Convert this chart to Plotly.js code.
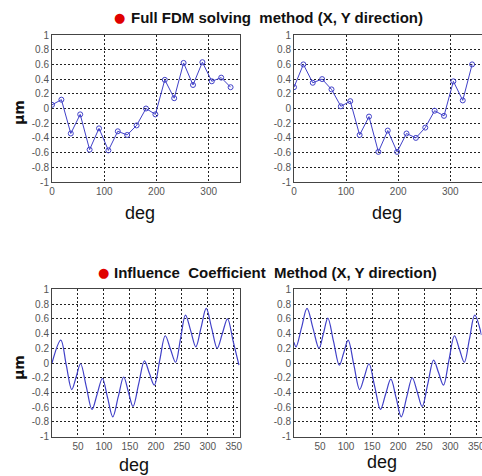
<!DOCTYPE html>
<html>
<head>
<meta charset="utf-8">
<script src="https://cdn.plot.ly/plotly-3.0.1.min.js"></script>
<style>html,body{margin:0;padding:0;background:#fff;}#chart{width:482px;height:476px;}</style>
</head>
<body>
<div id="chart"></div>
<script>
// ---- data ----
var fdmDeg = [0,18,36,54,72,90,108,126,144,162,180,198,216,234,252,270,288,306,324,342];
var fdmX = [0.05,0.12,-0.34,-0.08,-0.56,-0.27,-0.57,-0.31,-0.36,-0.23,0.0,-0.08,0.39,0.14,0.62,0.32,0.63,0.37,0.42,0.29];
var fdmY = [0.29,0.60,0.35,0.40,0.26,0.03,0.10,-0.36,-0.11,-0.59,-0.30,-0.59,-0.34,-0.40,-0.26,-0.03,-0.10,0.37,0.11,0.60];

var icmXDeg = [0,17,27.5,38,46.5,55,66,77,87,97,107,117,127.5,138,147,156,167,178,187.5,197,207.5,218,228,238,247.5,257,267,277,287,297,307.5,318,328,338,349,360];
var icmXVal = [0.0,0.31,-0.03,-0.36,-0.19,-0.01,-0.32,-0.63,-0.42,-0.21,-0.47,-0.73,-0.46,-0.19,-0.39,-0.59,-0.28,0.03,-0.14,-0.30,0.04,0.37,0.19,0.01,0.33,0.65,0.44,0.22,0.48,0.74,0.47,0.20,0.40,0.60,0.29,-0.03];
var icmYDeg = [0,4,14.5,25,36.5,48,56.5,65,76,87,95.5,104,115,126,135,144,155,166,176,186,196,206,216.5,227,236.5,246,257,268,277.5,287,297.5,308,317.5,327,337,347,360];
var icmYVal = [0.28,0.22,0.48,0.74,0.47,0.20,0.40,0.61,0.29,-0.03,0.14,0.31,-0.03,-0.36,-0.19,-0.01,-0.32,-0.63,-0.42,-0.22,-0.47,-0.73,-0.46,-0.20,-0.39,-0.59,-0.28,0.04,-0.13,-0.30,0.04,0.37,0.19,0.01,0.33,0.65,0.38];

var yTicks = [-1,-0.8,-0.6,-0.4,-0.2,0,0.2,0.4,0.6,0.8,1];
var yTickText = ['-1','-0.8','-0.6','-0.4','-0.2','0','0.2','0.4','0.6','0.8','1'];
var xTicksTop = [0,100,200,300];
var xTicksBottom = [50,100,150,200,250,300,350];

var title1 = 'Full FDM solving  method (X, Y direction)';
var title2 = 'Influence  Coefficient  Method (X, Y direction)';
var yLabel = 'μm';
var xLabel = 'deg';

// ---- layout helpers ----
var W = 482, H = 476;
function px(x){ return x / W; }
function py(y){ return 1 - y / H; }
var lineColor = 'rgb(64,64,200)';
var tickFont = {family: 'Liberation Sans, Arial, sans-serif', size: 10, color: '#555'};

function xaxis(dom, ticks, range, anchor){
  return {domain: dom, range: range, tickvals: ticks, ticktext: ticks.map(String),
    showline: true, mirror: true, linecolor: '#444', linewidth: 1,
    showgrid: true, gridcolor: '#222', gridwidth: 1, griddash: '2px,2px',
    zeroline: false, ticks: '', anchor: anchor, ticklabeloverflow: 'allow',
    tickfont: tickFont};
}
function yaxis(dom, anchor){
  return {domain: dom, range: [-1, 1], tickvals: yTicks, ticktext: yTickText,
    showline: true, mirror: true, linecolor: '#444', linewidth: 1,
    showgrid: true, gridcolor: '#222', gridwidth: 1, griddash: '2px,2px',
    zeroline: false, ticks: '', anchor: anchor, ticklabeloverflow: 'allow',
    tickfont: tickFont};
}

var domLeft = [px(52), px(240)];
var domRight = [px(294), px(481.5)];
var domTop = [py(182), py(35)];
var domBot = [py(436.7), py(289.3)];

var traces = [
  {x: fdmDeg, y: fdmX, xaxis: 'x', yaxis: 'y', mode: 'lines+markers', type: 'scatter',
   line: {color: lineColor, width: 1}, marker: {symbol: 'circle-open', size: 5, color: lineColor, line: {width: 1}}},
  {x: fdmDeg, y: fdmY, xaxis: 'x2', yaxis: 'y2', mode: 'lines+markers', type: 'scatter',
   line: {color: lineColor, width: 1}, marker: {symbol: 'circle-open', size: 5, color: lineColor, line: {width: 1}}},
  {x: icmXDeg, y: icmXVal, xaxis: 'x3', yaxis: 'y3', mode: 'lines', type: 'scatter',
   line: {color: lineColor, width: 1.2, shape: 'spline', smoothing: 1}},
  {x: icmYDeg, y: icmYVal, xaxis: 'x4', yaxis: 'y4', mode: 'lines', type: 'scatter',
   line: {color: lineColor, width: 1.2, shape: 'spline', smoothing: 1}}
];

var titleFont = {family: 'Liberation Sans, Arial, sans-serif', size: 15, color: '#111', weight: 'bold'};
var degFont = {family: 'Liberation Sans, Arial, sans-serif', size: 18, color: '#111'};
var muFont = {family: 'DejaVu Sans, sans-serif', size: 14, color: '#111', weight: 'bold'};

function ann(text, x, y, font, extra){
  var a = {text: text, xref: 'paper', yref: 'paper', x: px(x), y: py(y), showarrow: false,
    xanchor: 'center', yanchor: 'middle', font: font, borderpad: 0};
  for (var k in extra) a[k] = extra[k];
  return a;
}
var dotFont = {family: 'DejaVu Sans, sans-serif', size: 13, color: '#e00000'};

var layout = {
  width: W, height: H, margin: {l: 0, r: 0, t: 0, b: 0},
  paper_bgcolor: '#fff', plot_bgcolor: '#fff', showlegend: false,
  xaxis: xaxis(domLeft, xTicksTop, [0, 360], 'y'),
  yaxis: yaxis(domTop, 'x'),
  xaxis2: xaxis(domRight, xTicksTop, [0, 360], 'y2'),
  yaxis2: yaxis(domTop, 'x2'),
  xaxis3: xaxis(domLeft, xTicksBottom, [0, 362], 'y3'),
  yaxis3: yaxis(domBot, 'x3'),
  xaxis4: xaxis(domRight, xTicksBottom, [0, 360], 'y4'),
  yaxis4: yaxis(domBot, 'x4'),
  annotations: [
    ann('●', 119, 18, dotFont),
    ann(title1, 130, 18, titleFont, {xanchor: 'left'}),
    ann('●', 103, 272, dotFont),
    ann(title2, 113, 272, titleFont, {xanchor: 'left'}),
    ann(yLabel, 19, 113, muFont, {textangle: -90}),
    ann(yLabel, 19, 368, muFont, {textangle: -90}),
    ann(xLabel, 140, 213, degFont),
    ann(xLabel, 387, 213, degFont),
    ann(xLabel, 134, 465, degFont),
    ann(xLabel, 382, 462, degFont)
  ]
};

Plotly.newPlot('chart', traces, layout, {displayModeBar: false, staticPlot: true});
</script>
</body>
</html>
